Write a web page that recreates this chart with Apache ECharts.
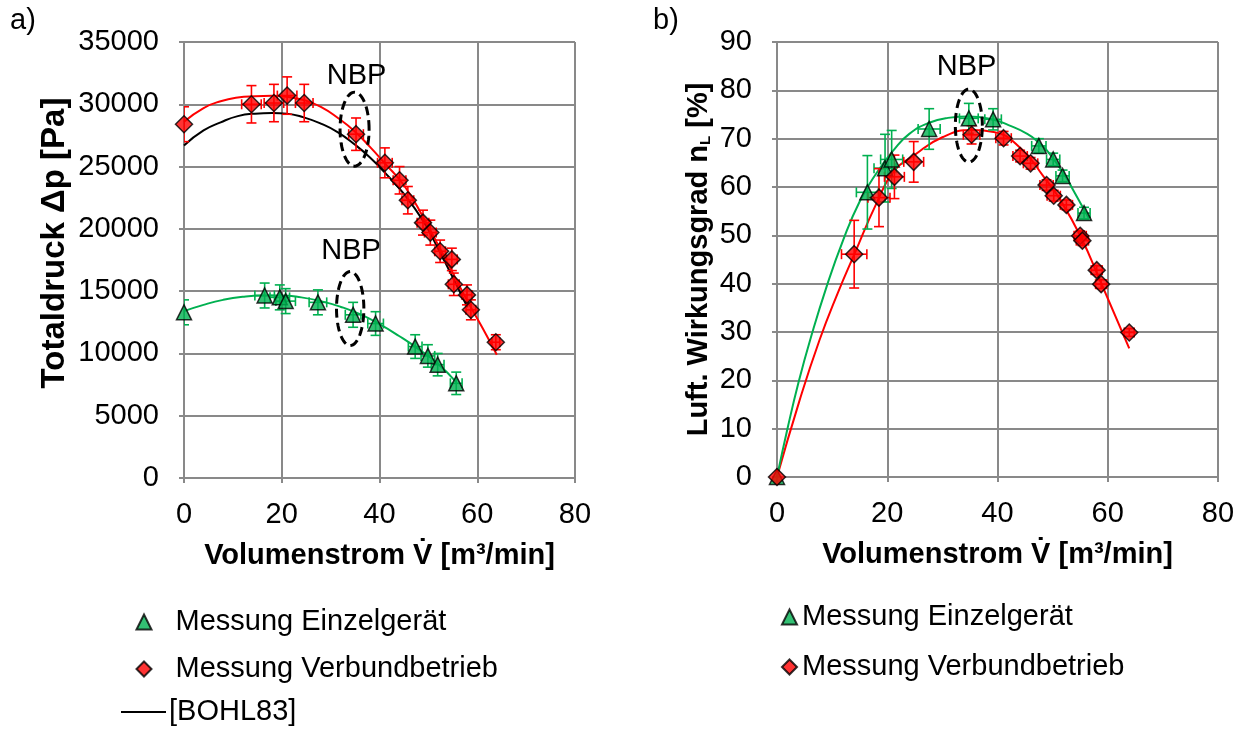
<!DOCTYPE html>
<html><head><meta charset="utf-8">
<script src="https://cdn.jsdelivr.net/npm/echarts@6/dist/echarts.min.js"></script>
<style>html,body{margin:0;padding:0;background:#fff}#c{width:1241px;height:731px}</style>
</head><body><div id="c"></div>
<script>
// ---------- a) Totaldruck ----------
const einzelDpX    = [0, 16.5, 19.6, 20.8, 27.4, 34.6, 39.2, 47.3, 49.9, 51.9, 55.7];
const einzelDpY    = [13300, 14650, 14500, 14200, 14100, 13100, 12400, 10550, 9800, 9100, 7600];
const einzelDpXErr = [0, 2, 2, 2, 1.8, 1.6, 1.6, 1.4, 1.4, 1.3, 1.2];
const einzelDpYErr = [1000, 1000, 1000, 1000, 1000, 1000, 950, 950, 900, 900, 900];

const verbundDpX    = [0, 13.8, 18.4, 21.1, 24.6, 35.2, 41.1, 44.1, 45.8, 48.9, 50.4, 52.4, 54.8, 55.2, 57.9, 58.7, 63.8];
const verbundDpY    = [28400, 30000, 30100, 30700, 30100, 27600, 25300, 23900, 22300, 20500, 19700, 18200, 17550, 15550, 14700, 13500, 10900];
const verbundDpXErr = [0, 2, 2, 2, 1.8, 1.5, 1.5, 1.3, 1.2, 1.2, 1.2, 1.1, 1.1, 1.1, 1.0, 1.0, 0.8];
const verbundDpYErr = [1400, 1500, 1500, 1500, 1500, 1300, 1200, 1100, 1100, 1000, 1000, 900, 900, 900, 800, 800, 600];

// fitted curves
const fitEinzelDp  = [[0,13400],[4,13900],[8,14300],[12,14550],[16,14650],[20,14650],[24,14500],[28,14200],[32,13750],[36,13150],[40,12350],[44,11400],[48,10350],[52,9150],[55.7,7700]];
const fitVerbundDp = [[0,28600],[4,29700],[7.5,30250],[11,30550],[14.5,30650],[18,30680],[21,30600],[24.5,30350],[28,29800],[31.5,28900],[35,27800],[38,26600],[41,25300],[45,23500],[49,20900],[52,18700],[55,16450],[58,14200],[61,12100],[64,9900]];
const bohl83Dp     = [[0,26700],[4,27900],[7.5,28550],[11,29050],[14.5,29250],[18,29300],[21,29250],[24.5,28950],[28,28450],[31.5,27750],[35,26750],[38,25750],[41,24550],[45,22800],[49,20600],[52,18400],[55,16100],[58,13700]];

// ---------- b) Wirkungsgrad ----------
const einzelEtaX    = [0, 16.4, 19.6, 20.8, 27.6, 34.8, 39.2, 47.5, 50.1, 51.8, 55.7];
const einzelEtaY    = [0, 58.9, 63.9, 65.7, 72.0, 74.2, 74.0, 68.5, 65.7, 62.3, 54.6];
const einzelEtaXErr = [0, 2, 2, 2, 2, 1.7, 1.5, 1.3, 1.2, 1.2, 1.1];
const einzelEtaYErr = [0, 7.6, 7, 6, 4.2, 3.1, 2.2, 1.5, 1.3, 1.2, 1.2];

const verbundEtaX    = [0, 14.0, 18.5, 21.3, 24.8, 35.3, 41.1, 44.1, 46.0, 48.9, 50.2, 52.5, 55.0, 55.4, 58.0, 58.8, 63.9];
const verbundEtaY    = [0, 46.1, 57.8, 62.1, 65.2, 70.8, 70.1, 66.4, 64.9, 60.4, 58.2, 56.3, 49.9, 48.9, 42.8, 39.9, 29.9];
const verbundEtaXErr = [0, 2.3, 2, 1.8, 1.8, 1.5, 1.4, 1.3, 1.3, 1.2, 1.2, 1.1, 1.1, 1.1, 1.0, 1.0, 0.9];
const verbundEtaYErr = [0, 7, 6, 4.5, 4.2, 1.9, 1.4, 1.2, 1.2, 1.1, 1.1, 1.0, 1.0, 1.0, 0.9, 0.9, 0.8];

const fitEinzelEta  = [[0,0],[2,10.5],[4,20],[6,28.3],[9,39.4],[12,49],[15,57],[18,62.8],[21.2,67.7],[24,71],[27.6,73.3],[31,74.3],[34.8,74.6],[39.3,73.9],[42,72.8],[45.4,71],[47.5,69.2],[49,67.5],[52,62.8],[54,58.8],[56.6,53.5]];
const fitVerbundEta = [[0,0],[4,15.5],[7.7,28.3],[11,38],[14,46],[18,56.5],[21.2,63.3],[24.8,66.5],[30,70.3],[35.5,71.8],[39.3,71.4],[44.2,68],[48.4,62.1],[51.4,57.3],[55.1,49.7],[58.7,40.4],[63.9,26.6]];

// NBP marks: [centreX, centreY, radiusX, radiusY, labelX, labelY]
const nbpDp  = [[34.9, 28000, 2.97, 2970, 35.3, 32300], [34.0, 13600, 2.8, 2970, 34.2, 18200]];
const nbpEta = [[34.8, 72.7, 2.45, 7.55, 34.4, 84.9]];

// tick values
const xTicks = {min: 0, max: 80, interval: 20};
const dpTicks = {min: 0, max: 35000, interval: 5000};
const etaTicks = {min: 0, max: 90, interval: 10};

const GREEN = '#00B050', RED = '#FF0000', GRID = '#898989';
const FONT = "'Liberation Sans', Arial, sans-serif";
const FS = 29;

function zip4(a, b, c, d) { return a.map((v, i) => [v, b[i], c[i], d[i]]); }
function zip2(a, b) { return a.map((v, i) => [v, b[i]]); }

function errRender(color) {
  return function (params, api) {
    const x = api.value(0), y = api.value(1), ex = api.value(2), ey = api.value(3);
    const style = {stroke: color, lineWidth: 1.6, fill: null};
    const ch = [];
    const cap = 5;
    if (ey > 0) {
      const t = api.coord([x, y + ey]), b = api.coord([x, y - ey]);
      ch.push({type: 'line', shape: {x1: t[0], y1: t[1], x2: b[0], y2: b[1]}, style});
      ch.push({type: 'line', shape: {x1: t[0] - cap, y1: t[1], x2: t[0] + cap, y2: t[1]}, style});
      ch.push({type: 'line', shape: {x1: b[0] - cap, y1: b[1], x2: b[0] + cap, y2: b[1]}, style});
    }
    if (ex > 0) {
      const l = api.coord([x - ex, y]), r = api.coord([x + ex, y]);
      ch.push({type: 'line', shape: {x1: l[0], y1: l[1], x2: r[0], y2: r[1]}, style});
      ch.push({type: 'line', shape: {x1: l[0], y1: l[1] - cap, x2: l[0], y2: l[1] + cap}, style});
      ch.push({type: 'line', shape: {x1: r[0], y1: r[1] - cap, x2: r[0], y2: r[1] + cap}, style});
    }
    return {type: 'group', children: ch};
  };
}

function nbpRender(params, api) {
  const cx = api.value(0), cy = api.value(1), rx = api.value(2), ry = api.value(3);
  const pts = [];
  for (let i = 0; i <= 64; i++) {
    const a = i / 64 * Math.PI * 2;
    pts.push(api.coord([cx + rx * Math.cos(a), cy + ry * Math.sin(a)]));
  }
  const lp = api.coord([api.value(4), api.value(5)]);
  return {type: 'group', children: [
    {type: 'polyline', shape: {points: pts}, style: {stroke: '#000', lineWidth: 3, lineDash: [9, 5], fill: null}},
    {type: 'text', x: lp[0], y: lp[1], style: {text: 'NBP', fontSize: FS, fontFamily: FONT, fill: '#000', align: 'center', verticalAlign: 'middle'}}
  ]};
}

const plainNum = (v) => String(v);

function xAxisCfg(grid) {
  return {
    type: 'value', gridIndex: grid, min: xTicks.min, max: xTicks.max, interval: xTicks.interval,
    axisLine: {show: true, lineStyle: {color: GRID, width: 2}},
    axisTick: {show: true, length: 5, lineStyle: {color: GRID, width: 2}},
    splitLine: {show: true, lineStyle: {color: GRID, width: 2}},
    axisLabel: {fontSize: FS, color: '#000', fontFamily: FONT, margin: 22, formatter: plainNum},
    name: 'Volumenstrom V\u0307 [m\u00b3/min]', nameLocation: 'middle', nameGap: 63,
    nameTextStyle: {fontSize: FS, fontWeight: 'bold', color: '#000', fontFamily: FONT}
  };
}
function yAxisCfg(grid, t, name, gap, extra) {
  return Object.assign({
    type: 'value', gridIndex: grid, min: t.min, max: t.max, interval: t.interval,
    axisLine: {show: true, lineStyle: {color: GRID, width: 2}},
    axisTick: {show: true, length: 5, lineStyle: {color: GRID, width: 2}},
    splitLine: {show: true, lineStyle: {color: GRID, width: 2}},
    axisLabel: {fontSize: FS, color: '#000', fontFamily: FONT, margin: 25, formatter: plainNum},
    name: name, nameLocation: 'middle', nameGap: gap, nameRotate: 90,
    nameTextStyle: {fontSize: FS, fontWeight: 'bold', color: '#000', fontFamily: FONT}
  }, extra || {});
}

const chart = echarts.init(document.getElementById('c'));
const scatterStyle = (c) => ({color: c, borderColor: '#000', borderWidth: 1.5});
const legendText = {fontSize: FS, color: '#000', fontFamily: FONT, lineHeight: 30};

chart.setOption({
  animation: false,
  backgroundColor: '#fff',
  textStyle: {fontFamily: FONT},
  grid: [
    {left: 184, top: 42, width: 391, height: 436},
    {left: 777, top: 42, width: 441, height: 435}
  ],
  xAxis: [xAxisCfg(0), xAxisCfg(1)],
  yAxis: [
    yAxisCfg(0, dpTicks, 'Totaldruck \u0394p [Pa]', 113, {nameTextStyle: {fontSize: 33, fontWeight: 'bold', color: '#000', fontFamily: FONT, padding: [0, 0, 0, 34]}}),
    yAxisCfg(1, etaTicks, 'Luft. Wirkungsgrad n{sub|L} [%]', 64, {nameTextStyle: {fontSize: FS, fontWeight: 'bold', color: '#000', fontFamily: FONT,
      rich: {sub: {fontSize: 15, fontWeight: 'bold', fontFamily: FONT, color: '#000', verticalAlign: 'bottom', padding: [14, 0, 0, 0]}}}})
  ],
  legend: [
    {orient: 'vertical', left: 135.5, top: 607, padding: 0, itemWidth: 15, itemHeight: 15, itemGap: 17,
     textStyle: Object.assign({padding: [0, 0, 0, 19]}, legendText),
     data: ['Messung Einzelgerät', 'Messung Verbundbetrieb']},
    {orient: 'vertical', left: 120, top: 697, padding: 0, itemWidth: 45, itemHeight: 15,
     textStyle: Object.assign({padding: [0, 0, 0, -2]}, legendText),
     data: [{name: '[BOHL83]', itemStyle: {opacity: 0}}]},
    {orient: 'vertical', left: 781, top: 602, padding: 0, itemWidth: 15, itemHeight: 15, itemGap: 20,
     textStyle: Object.assign({padding: [0, 0, 0, 0]}, legendText),
     data: ['Messung Einzelgerät', 'Messung Verbundbetrieb']}
  ],
  graphic: [
    {type: 'text', left: 10, top: 6, style: {text: 'a)', fontSize: FS, fontFamily: FONT, fill: '#000'}},
    {type: 'text', left: 653, top: 6, style: {text: 'b)', fontSize: FS, fontFamily: FONT, fill: '#000'}}
  ],
  series: [
    // ---- left chart ----
    {type: 'line', xAxisIndex: 0, yAxisIndex: 0, data: bohl83Dp, name: '[BOHL83]', smooth: true, symbol: 'none', lineStyle: {color: '#000', width: 2}, itemStyle: {color: '#000'}, z: 2},
    {type: 'line', xAxisIndex: 0, yAxisIndex: 0, data: fitVerbundDp, smooth: true, symbol: 'none', lineStyle: {color: RED, width: 2}, z: 2},
    {type: 'line', xAxisIndex: 0, yAxisIndex: 0, data: fitEinzelDp, smooth: true, symbol: 'none', lineStyle: {color: GREEN, width: 2}, z: 2},
    {type: 'custom', xAxisIndex: 0, yAxisIndex: 0, renderItem: errRender(GREEN), data: zip4(einzelDpX, einzelDpY, einzelDpXErr, einzelDpYErr), encode: {x: 0, y: 1}, clip: true, z: 3},
    {type: 'custom', xAxisIndex: 0, yAxisIndex: 0, renderItem: errRender(RED), data: zip4(verbundDpX, verbundDpY, verbundDpXErr, verbundDpYErr), encode: {x: 0, y: 1}, clip: true, z: 3},
    {type: 'scatter', name: 'Messung Einzelgerät', xAxisIndex: 0, yAxisIndex: 0, data: zip2(einzelDpX, einzelDpY), symbol: 'triangle', symbolSize: 15, itemStyle: scatterStyle(GREEN), z: 4},
    {type: 'scatter', name: 'Messung Verbundbetrieb', xAxisIndex: 0, yAxisIndex: 0, data: zip2(verbundDpX, verbundDpY), symbol: 'diamond', symbolSize: 17, itemStyle: scatterStyle(RED), z: 4},
    {type: 'custom', xAxisIndex: 0, yAxisIndex: 0, renderItem: nbpRender, data: nbpDp, encode: {x: 0, y: 1}, z: 5},
    // ---- right chart ----
    {type: 'line', xAxisIndex: 1, yAxisIndex: 1, data: fitVerbundEta, smooth: true, symbol: 'none', lineStyle: {color: RED, width: 2}, z: 2},
    {type: 'line', xAxisIndex: 1, yAxisIndex: 1, data: fitEinzelEta, smooth: true, symbol: 'none', lineStyle: {color: GREEN, width: 2}, z: 2},
    {type: 'custom', xAxisIndex: 1, yAxisIndex: 1, renderItem: errRender(GREEN), data: zip4(einzelEtaX, einzelEtaY, einzelEtaXErr, einzelEtaYErr), encode: {x: 0, y: 1}, clip: true, z: 3},
    {type: 'custom', xAxisIndex: 1, yAxisIndex: 1, renderItem: errRender(RED), data: zip4(verbundEtaX, verbundEtaY, verbundEtaXErr, verbundEtaYErr), encode: {x: 0, y: 1}, clip: true, z: 3},
    {type: 'scatter', name: 'Messung Einzelgerät', xAxisIndex: 1, yAxisIndex: 1, data: zip2(einzelEtaX, einzelEtaY), symbol: 'triangle', symbolSize: 15, itemStyle: scatterStyle(GREEN), z: 4},
    {type: 'scatter', name: 'Messung Verbundbetrieb', xAxisIndex: 1, yAxisIndex: 1, data: zip2(verbundEtaX, verbundEtaY), symbol: 'diamond', symbolSize: 17, itemStyle: scatterStyle(RED), z: 4},
    {type: 'custom', xAxisIndex: 1, yAxisIndex: 1, renderItem: nbpRender, data: nbpEta, encode: {x: 0, y: 1}, z: 5}
  ]
});
</script></body></html>
